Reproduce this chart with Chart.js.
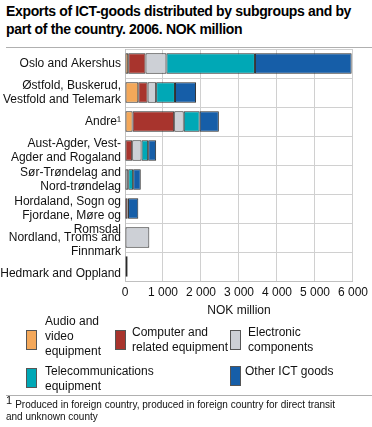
<!DOCTYPE html>
<html>
<head>
<meta charset="utf-8">
<script src="https://cdn.jsdelivr.net/npm/chart.js@4/dist/chart.umd.min.js"></script>
<style>
  html, body { margin:0; padding:0; background:#fff; }
  body { width:372px; height:427px; position:relative; overflow:hidden; font-family:"Liberation Sans", Arial, sans-serif; color:#000; }
  #title { position:absolute; left:6px; top:2px; width:366px; font-size:14px; letter-spacing:-0.35px; font-weight:bold; line-height:18px; white-space:nowrap; }
  .hr { position:absolute; left:6px; width:366px; height:0; border-top:1px solid #b0b0b0; }
  #wrap { position:absolute; left:0; top:48px; width:372px; height:270px; }
  .sw { position:absolute; width:11px; height:20px; border:1px solid #555; box-sizing:border-box; }
  .lt { position:absolute; font-size:12px; line-height:15px; color:#111; }
  #foot { position:absolute; left:6px; top:399px; font-size:10px; line-height:12px; color:#111; }
  #foot sup { font-size:11px; vertical-align:4px; line-height:0; margin-right:3px; }
</style>
</head>
<body>
<div id="title">Exports of ICT-goods distributed by subgroups and by<br>part of the country. 2006. NOK million</div>
<div class="hr" style="top:47px"></div>
<div id="wrap"><canvas id="c" width="372" height="270"></canvas></div>

<div class="sw" style="left:26px;top:330px;background:#F4A85A"></div>
<div class="lt" style="left:45px;top:314px">Audio and<br>video<br>equipment</div>
<div class="sw" style="left:115px;top:330px;background:#A8342D"></div>
<div class="lt" style="left:132px;top:325px">Computer and<br>related equipment</div>
<div class="sw" style="left:230px;top:330px;background:#CDD0D6"></div>
<div class="lt" style="left:248px;top:325px">Electronic<br>components</div>
<div class="sw" style="left:26px;top:368px;background:#00A8B6"></div>
<div class="lt" style="left:45px;top:364px">Telecommunications<br>equipment</div>
<div class="sw" style="left:230px;top:366px;background:#165EA8"></div>
<div class="lt" style="left:245px;top:364px">Other ICT goods</div>

<div class="hr" style="top:395px"></div>
<div id="foot"><sup>1</sup>Produced in foreign country, produced in foreign country for direct transit<br>and unknown county</div>

<script>
const categories = [
  "Oslo and Akershus",
  ["Østfold, Buskerud,", "Vestfold and Telemark"],
  "Andre¹",
  ["Aust-Agder, Vest-", "Agder and Rogaland"],
  ["Sør-Trøndelag and", "Nord-trøndelag"],
  ["", "Hordaland, Sogn og", "Fjordane, Møre og", "Romsdal"],
  ["", "Nordland, Troms and", "Finnmark"],
  ["", "Hedmark and Oppland"]
];
const seriesNames = ["Audio and video equipment", "Computer and related equipment", "Electronic components", "Telecommunications equipment", "Other ICT goods"];
const audioVideo   = [85, 350, 200, 10, 5, 10, 0, 5];
const computer     = [455, 245, 1095, 180, 10, 60, 0, 10];
const electronic   = [550, 225, 250, 245, 70, 5, 640, 5];
const telecom      = [2330, 495, 420, 175, 130, 5, 0, 5];
const otherICT     = [2545, 555, 505, 210, 200, 270, 0, 45];
const xTicks = [0, 1000, 2000, 3000, 4000, 5000, 6000];
const colors = ["#F4A85A", "#A8342D", "#CDD0D6", "#00A8B6", "#165EA8"];
const seriesValues = [audioVideo, computer, electronic, telecom, otherICT];

const fmt = v => String(v).replace(/\B(?=(\d{3})+(?!\d))/g, " ");

new Chart(document.getElementById("c"), {
  type: "bar",
  data: {
    labels: categories,
    datasets: seriesValues.map((d, i) => ({
      label: seriesNames[i],
      data: d,
      backgroundColor: colors[i],
      borderColor: "#2a2a2a",
      borderWidth: 1,
      borderSkipped: false,
      categoryPercentage: 1,
      barPercentage: 0.7
    }))
  },
  options: {
    indexAxis: "y",
    responsive: false,
    animation: false,
    layout: { padding: { top: 1, right: 17, left: 0, bottom: 0 } },
    plugins: { legend: { display: false }, tooltip: { enabled: false } },
    scales: {
      x: {
        stacked: true,
        min: 0, max: 6000,
        afterBuildTicks: s => { s.ticks = xTicks.map(v => ({ value: v })); },
        ticks: { callback: v => fmt(v), color: "#111", font: { family: "Liberation Sans", size: 12 }, padding: 4, maxRotation: 0 },
        grid: { color: "#d0d0d0", drawTicks: false },
        border: { color: "#c0c0c0" },
        title: { display: true, text: "NOK million", color: "#111", font: { family: "Liberation Sans", size: 12 }, padding: { top: 4, bottom: 0 } },
        afterFit: s => { s.height = 37; }
      },
      y: {
        stacked: true,
        ticks: { color: "#111", font: { family: "Liberation Sans", size: 12, lineHeight: "14px" }, padding: 4, autoSkip: false },
        grid: { color: "#d0d0d0", drawTicks: false },
        border: { color: "#c0c0c0" },
        afterFit: s => { s.width = 125; s.paddingTop = 0; s.paddingBottom = 0; }
      }
    }
  }
});
</script>
</body>
</html>
